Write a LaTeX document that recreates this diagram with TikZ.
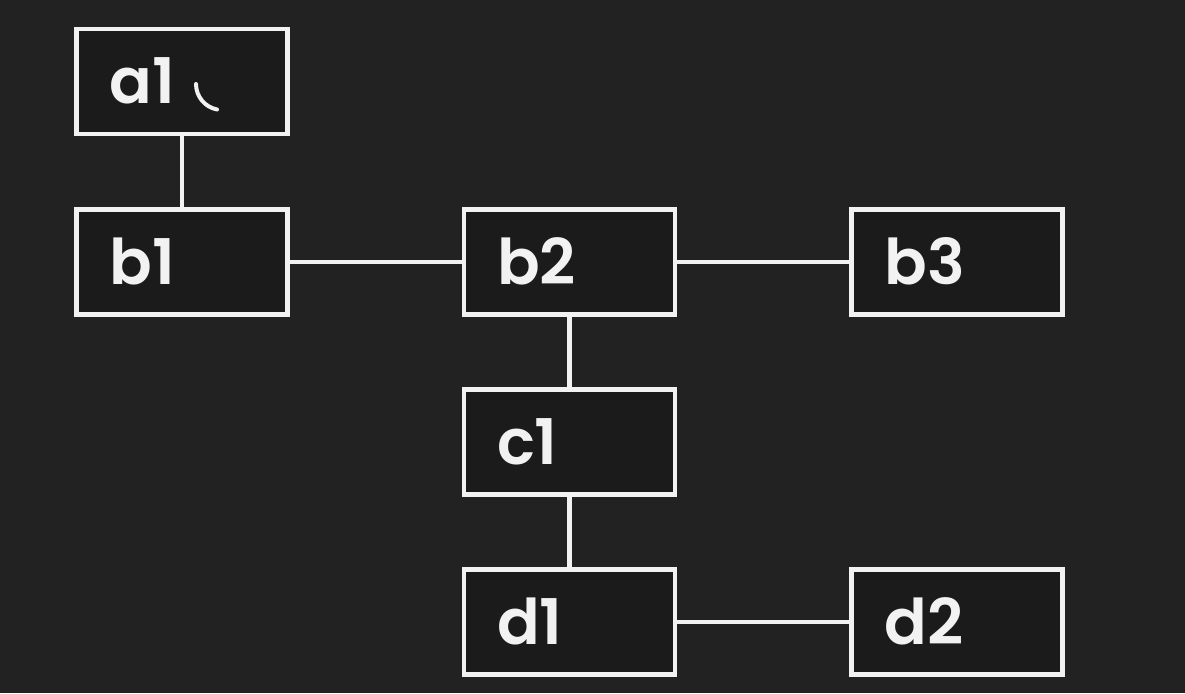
\documentclass[tikz,border=0pt]{standalone}
\usepackage{fontspec}
\setmainfont{Poppins}[BoldFont={Poppins SemiBold}]
\definecolor{bgc}{HTML}{222222}
\definecolor{boxc}{HTML}{1B1B1B}
\definecolor{linec}{HTML}{F2F2F2}
\begin{document}
\begin{tikzpicture}[x=1pt,y=-1pt,
  tbox/.style={draw=linec, fill=boxc, line width=4.5pt, rectangle,
    minimum width=211pt, minimum height=105pt, inner xsep=33pt, inner ysep=0pt,
    text width=145pt, align=left, text height=54pt, text depth=10pt,
    text=linec, font=\fontsize{63}{63}\selectfont\bfseries},
  conn/.style={draw=linec, line width=4.5pt}]
\fill[bgc] (0,0) rectangle (1185,693);
\useasboundingbox (0,0) rectangle (1185,693);
\node[tbox] (a1) at (182,81.5) {a1};
\node[tbox] (b1) at (182,262) {b1};
\node[tbox] (b2) at (569.5,262) {b2};
\node[tbox] (b3) at (957,262) {b3};
\node[tbox] (c1) at (569.5,442) {c1};
\node[tbox] (d1) at (569.5,622) {d1};
\node[tbox] (d2) at (957,622) {d2};
\draw[conn] (a1) -- (b1);
\draw[conn] (b1) -- (b2);
\draw[conn] (b2) -- (b3);
\draw[conn] (b2) -- (c1);
\draw[conn] (c1) -- (d1);
\draw[conn] (d1) -- (d2);
\coordinate (spin) at (222,84);
\draw[linec, line width=4pt, line cap=round] ([shift={(180:26)}]spin) arc[start angle=180, end angle=101, radius=26];
\end{tikzpicture}
\end{document}
